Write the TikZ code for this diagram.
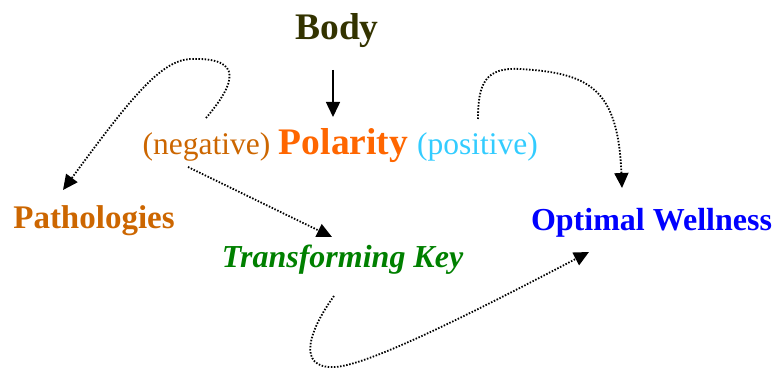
\documentclass[tikz,border=0pt]{standalone}
\usepackage{fontspec}
\setmainfont{Liberation Serif}
\usepackage{xcolor}
\usetikzlibrary{arrows.meta}
\usetikzlibrary{calc}
\definecolor{bodycol}{HTML}{333300}
\definecolor{negcol}{HTML}{CC6600}
\definecolor{polcol}{HTML}{FF6600}
\definecolor{poscol}{HTML}{33CCFF}
\definecolor{wellcol}{HTML}{0000FF}
\definecolor{keycol}{HTML}{008000}
\tikzset{>={Triangle[length=15bp,width=14bp]}, inner sep=0pt, anchor=base,
  bigword/.style={font=\fontsize{37.5bp}{40bp}\selectfont\bfseries},
  word/.style={font=\fontsize{31.5bp}{34bp}\selectfont},
  boldword/.style={font=\fontsize{32bp}{34bp}\selectfont\bfseries},
  dotline/.style={->, line width=1.8bp, dash pattern=on 1.5bp off 1.6bp}}

\begin{document}
\begin{tikzpicture}[x=1bp,y=1bp]
\useasboundingbox (0,0) rectangle (778,369);
%%
\node (body) at (337bp,329bp) [bigword,bodycol] {Body};
  \node (polarity) at (343.5bp,214bp) [bigword,polcol] {Polarity};
  \node (negative) at (206.5bp,214bp) [word,negcol] {(negative)};
  \node (positive) at (477.5bp,214bp) [word,poscol] {(positive)};
  \node (patho) at (94bp,141bp) [boldword,negcol,font=\fontsize{33bp}{34bp}\selectfont\bfseries] {Pathologies};
  \node (wellness) at (651.5bp,139bp) [boldword,wellcol] {Optimal Wellness};
  \node (key) at (342.5bp,102bp) [boldword,keycol,font=\fontsize{32bp}{34bp}\selectfont\bfseries\itshape] {Transforming Key};
  \coordinate (neg-a) at (206bp,251bp);
  \coordinate (neg-b) at (188bp,202bp);
  \coordinate (pos-a) at (478bp,250bp);
  \coordinate (key-a) at (334bp,73bp);
  \coordinate (patho-in) at (63bp,179bp);
  \coordinate (key-in) at (332bp,132bp);
  \coordinate (well-in) at (622bp,181bp);
  \coordinate (well-in2) at (589bp,117bp);
  \draw [->, line width=1.5bp] ($(body.base)+(-4bp,-30bp)$) -- ($(polarity.base)+(-10.5bp,38bp)$);
  \draw [dotline] (neg-a) ..controls (235bp,285bp) and (245bp,312bp) .. (190bp,310bp) .. controls (160bp,308bp) and (130bp,270bp) .. (patho-in);
  \draw [dotline] (neg-b) -- (key-in);
  \draw [dotline] (pos-a) ..controls (478bp,285bp) and (485bp,302bp) .. (520bp,300bp) .. controls (590bp,296bp) and (618bp,280bp) .. (well-in);
  \draw [dotline] (key-a) ..controls (310bp,40bp) and (295bp,0bp) .. (335bp,2bp) .. controls (370bp,4bp) and (480bp,60bp) .. (well-in2);
%
\end{tikzpicture}
\end{document}
